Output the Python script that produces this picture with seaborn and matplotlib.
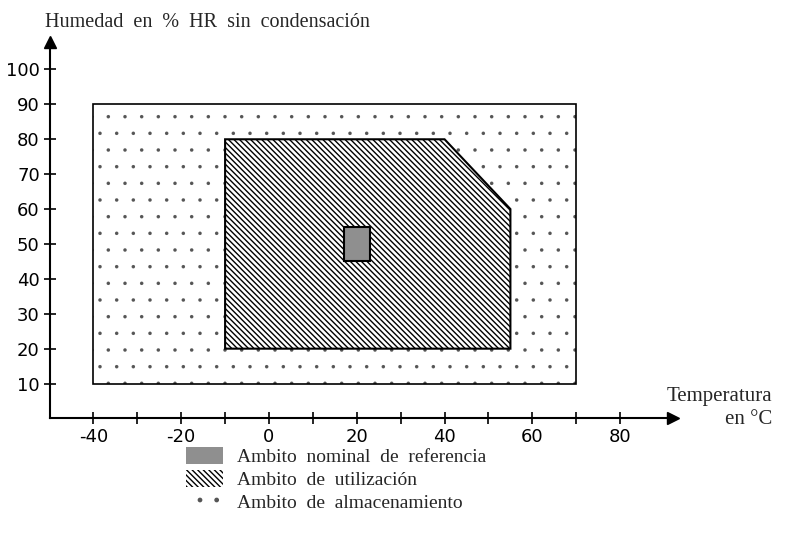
import matplotlib
matplotlib.use("Agg")
import matplotlib.pyplot as plt
import seaborn as sns
from matplotlib.patches import Patch

# Ambito polygons (temperature in °C, humidity in % HR)
storage_temp = [-40, 70, 70, -40]
storage_hum = [10, 10, 90, 90]
usage_temp = [-10, 55, 55, 40, -10]
usage_hum = [20, 20, 60, 80, 80]
nominal_temp = [17, 23, 23, 17]
nominal_hum = [45, 45, 55, 55]

x_ticks = [-40, -30, -20, -10, 0, 10, 20, 30, 40, 50, 60, 70, 80]
x_labels = ["-40", "", "-20", "", "0", "", "20", "", "40", "", "60", "", "80"]
y_ticks = [10, 20, 30, 40, 50, 60, 70, 80, 90, 100]

legend_labels = ["Ambito  nominal  de  referencia", "Ambito  de  utilización", "Ambito  de  almacenamiento"]

sns.set_style("white")

fig = plt.figure(figsize=(7.86, 5.47), dpi=100)
ax = fig.add_axes([0.063, 0.235, 0.793, 0.689])

# dotted storage area (thin hatch for small dots)
plt.rcParams["hatch.linewidth"] = 0.1
ax.fill(storage_temp, storage_hum, facecolor="white", edgecolor="#555555", hatch=".", linewidth=0)
ax.fill(storage_temp, storage_hum, facecolor="none", edgecolor="black", linewidth=1.2)
plt.rcParams["hatch.linewidth"] = 1.0
ax.fill(usage_temp, usage_hum, facecolor="white", edgecolor="black", hatch="\\\\\\\\\\\\", linewidth=1.5)
ax.fill(nominal_temp, nominal_hum, facecolor="#8f8f8f", edgecolor="black", linewidth=1.5)

ax.set_xlim(-50, 92)
ax.set_ylim(0, 108)
sns.despine(ax=ax)
for s in ["left", "bottom"]:
    ax.spines[s].set_linewidth(1.5)
    ax.spines[s].set_color("black")
ax.plot(1, 0, ">k", ms=8, transform=ax.transAxes, clip_on=False)
ax.plot(0, 1, "^k", ms=8, transform=ax.transAxes, clip_on=False)

ax.set_xticks(x_ticks)
ax.set_xticklabels(x_labels)
ax.set_yticks(y_ticks)
ax.tick_params(direction="inout", length=8, width=1.2, color="black", labelsize=13,
               labelcolor="black", bottom=True, left=True, pad=3)

fig.text(0.057, 0.958, "Humedad  en  %  HR  sin  condensación", family="Liberation Serif",
         fontsize=14.5, ha="left", va="center")
fig.text(0.982, 0.254, "Temperatura\nen °C", family="Liberation Serif", fontsize=15,
         ha="right", va="center", linespacing=1.3)

plt.rcParams["hatch.linewidth"] = 0.1
dot_handle = Patch(facecolor="white", edgecolor="#555555", hatch=".", linewidth=0)
plt.rcParams["hatch.linewidth"] = 1.0
handles = [
    Patch(facecolor="#8f8f8f", edgecolor="none"),
    Patch(facecolor="white", edgecolor="black", hatch="\\\\\\\\\\\\", linewidth=0),
    dot_handle,
]
leg = fig.legend(handles, legend_labels, loc="upper left", bbox_to_anchor=(0.215, 0.214),
                 frameon=False, prop={"family": "Liberation Serif", "size": 14},
                 handlelength=1.9, handleheight=0.9, handletextpad=0.7, labelspacing=0.22)

fig.savefig("out.png", dpi=100)
